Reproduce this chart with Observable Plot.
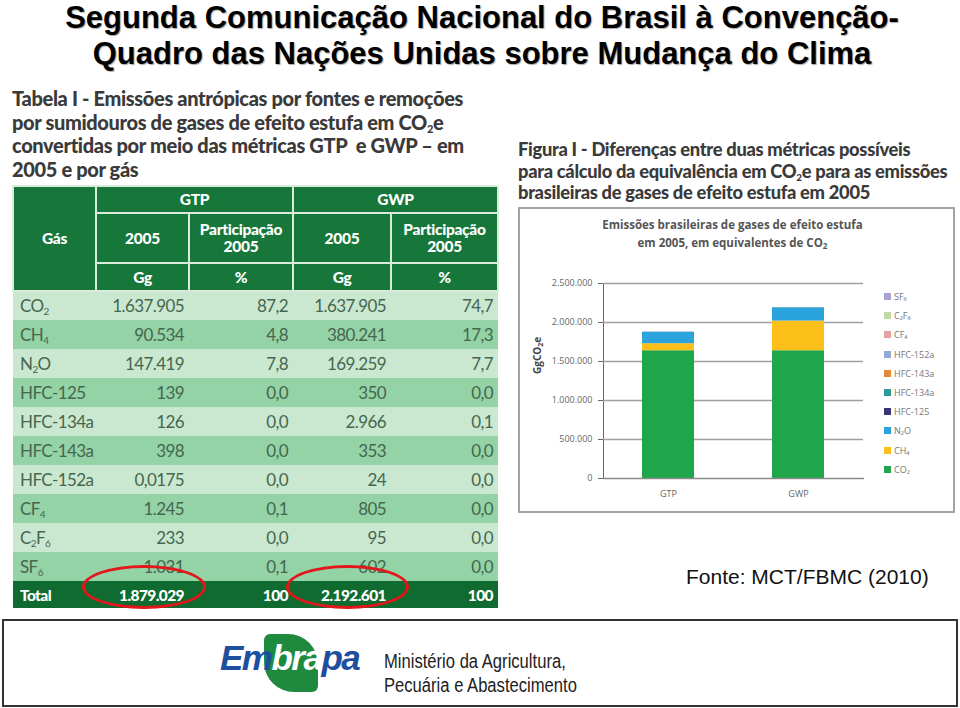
<!DOCTYPE html>
<html>
<head>
<meta charset="utf-8">
<script src="https://cdn.jsdelivr.net/npm/d3@7"></script>
<script src="https://cdn.jsdelivr.net/npm/@observablehq/plot@0.6"></script>
<style>
  html, body { margin: 0; padding: 0; background: #fff; }
  #slide { position: relative; width: 960px; height: 708px; overflow: hidden; background: #fff; font-family: "Liberation Sans", Arial, sans-serif; }
  .abs { position: absolute; }
  sub.s { vertical-align: baseline; position: relative; top: 0.3em; line-height: 0; }
  #title { left: 0; width: 964px; top: 0px; text-align: center; font: bold 31px/36px "Liberation Sans", Arial, sans-serif; color: #000; text-shadow: 1px 1px 1px #aaa; white-space: nowrap; }
  .cap { font-family: Lato, "Open Sans", sans-serif; font-weight: 900; color: #3a3a3a; white-space: nowrap; }
  #tcap { left: 12px; top: 87px; font-size: 20px; line-height: 23.5px; letter-spacing: -0.35px; }
  #fcap { left: 518px; top: 139px; font-size: 18.3px; line-height: 21.5px; letter-spacing: -0.3px; }
  table#tab { position: absolute; left: 12px; top: 185px; width: 485px; border-collapse: collapse; font-family: Lato, "Open Sans", sans-serif; table-layout: fixed; }
  #tab th { background: #17773a; color: #fff; font-weight: 900; font-size: 15.5px; line-height: 17px; border: 2px solid #d9ecd9; padding: 0; text-align: center; white-space: nowrap; letter-spacing: -0.3px; }
  #tab td { font-size: 17px; color: #46664f; padding: 0 5px; height: 29px; line-height: 20px; text-align: right; border: 0; white-space: nowrap; letter-spacing: -0.6px; box-sizing: border-box; }
  #tab td.g { text-align: left; padding-left: 7px; }
  #tab tr.l td { background: #cae8d0; }
  #tab tr.m td { background: #93d3a5; }
  #tab tr.tot td { background: #0f6b2f; color: #fff; font-weight: 900; height: 27px; font-size: 15.5px; }
  .ell { position: absolute; border: 3px solid #e3161b; border-radius: 50%; box-sizing: border-box; }
  #chartbox { left: 518px; top: 207px; width: 437px; height: 306px; border: 2px solid #a3a3a3; box-sizing: border-box; background: #fff; }
  #ctitle { left: 0; width: 425px; top: 7px; text-align: center; font: bold 11.5px/18px "Open Sans", sans-serif; color: #555; }
  #ylab { left: 10px; top: 165px; transform: rotate(-90deg); transform-origin: left top; font: bold 10px "Open Sans", sans-serif; color: #444; }
  #legend { left: 364px; top: 78px; font: 9px "Open Sans", sans-serif; color: #777; }
  #legend div { height: 19.2px; display: flex; align-items: center; }
  #legend span.sw { display: inline-block; width: 7px; height: 7px; margin-right: 3px; }
  #fonte { left: 686px; top: 565px; font: 21px "Liberation Sans", Arial, sans-serif; color: #111; white-space: nowrap; }
  #footer { left: 2px; top: 619px; width: 956px; height: 88px; border: 2px solid #333; box-sizing: border-box; background: #fff; }
  #leaf { left: 264px; top: 634px; width: 54px; height: 58px; background: #1f8a3e; border-radius: 6px 30px 6px 30px; }
  #embrapa { left: 220px; top: 638px; font: italic bold 35px/40px "Liberation Sans", Arial, sans-serif; color: #1d4f9e; letter-spacing: -1.5px; }
  #mapa { left: 384px; top: 649px; font: 20px/24px "Liberation Sans Narrow", "Liberation Sans", Arial, sans-serif; color: #222; transform: scaleX(0.83); transform-origin: left top; white-space: nowrap; }
</style>
</head>
<body>
<div id="slide">
  <div id="title" class="abs">Segunda Comunicação Nacional do Brasil à Convenção-<br>Quadro das Nações Unidas sobre Mudança do Clima</div>

  <div id="tcap" class="abs cap">Tabela I - Emissões antrópicas por fontes e remoções<br>por sumidouros de gases de efeito estufa em CO<sub class="s" style="font-size:11px">2</sub>e<br>convertidas por meio das métricas GTP&nbsp; e GWP – em<br>2005 e por gás</div>
  <table id="tab"></table>
  <div class="ell" style="left:82px;top:565px;width:124px;height:44px"></div>
  <div class="ell" style="left:286px;top:565px;width:123px;height:44px"></div>

  <div id="fcap" class="abs cap">Figura I - Diferenças entre duas métricas possíveis<br>para cálculo da equivalência em CO<sub class="s" style="font-size:10px">2</sub>e para as emissões<br>brasileiras de gases de efeito estufa em 2005</div>
  <div id="chartbox" class="abs">
    <div id="plot" class="abs" style="left:0;top:0"></div>
    <div id="ctitle" class="abs">Emissões brasileiras de gases de efeito estufa<br>em 2005, em equivalentes de CO<sub class="s" style="font-size:8px">2</sub></div>
    <div id="ylab" class="abs">GgCO<sub class="s" style="font-size:7px">2</sub>e</div>
    <div id="legend" class="abs"></div>
  </div>

  <div id="fonte" class="abs">Fonte: MCT/FBMC (2010)</div>

  <div id="footer" class="abs"></div>
  <div id="leaf" class="abs"></div>
  <div id="embrapa" class="abs"><span>Em</span><span style="color:#fff">bra</span><span>pa</span></div>
  <div id="mapa" class="abs">Ministério da Agricultura,<br>Pecuária e Abastecimento</div>
</div>
<script>
// ---- data ----
const gases = ["CO₂", "CH₄", "N₂O", "HFC-125", "HFC-134a", "HFC-143a", "HFC-152a", "CF₄", "C₂F₆", "SF₆"];
const gasTableLabels = ["CO<sub>2</sub>", "CH<sub>4</sub>", "N<sub>2</sub>O", "HFC-125", "HFC-134a", "HFC-143a", "HFC-152a", "CF<sub>4</sub>", "C<sub>2</sub>F<sub>6</sub>", "SF<sub>6</sub>"];
const metrics = ["GTP", "GWP"];
const gtpValues = [1637905, 90534, 147419, 139, 126, 398, 0.0175, 1245, 233, 1031];
const gwpValues = [1637905, 380241, 169259, 350, 2966, 353, 24, 805, 95, 602];
const gtpShare = ["87,2", "4,8", "7,8", "0,0", "0,0", "0,0", "0,0", "0,1", "0,0", "0,1"];
const gwpShare = ["74,7", "17,3", "7,7", "0,0", "0,1", "0,0", "0,0", "0,0", "0,0", "0,0"];
const totals = ["1.879.029", "100", "2.192.601", "100"];
const gasColors = ["#1fa64a", "#fdbf1a", "#2ba3dc", "#3b3574", "#2f9a9a", "#e08a3c", "#92a9d2", "#e3a3a3", "#c2d9a4", "#aaa3cf"];
const yTicks = [0, 500000, 1000000, 1500000, 2000000, 2500000];

// ---- formatting ----
const pt = d3.formatLocale({decimal: ",", thousands: ".", grouping: [3], currency: ["R$", ""]});
const fmtInt = pt.format(",d");
const fmtVal = v => v < 1 ? String(v).replace(".", ",") : fmtInt(v);

// ---- table ----
const tab = document.getElementById("tab");
let html = `<colgroup><col style="width:83px"><col style="width:93px"><col style="width:104px"><col style="width:98px"><col style="width:107px"></colgroup>`;
html += `<tr style="height:27px"><th rowspan="3">Gás</th><th colspan="2">GTP</th><th colspan="2">GWP</th></tr>`;
html += `<tr style="height:50px"><th>2005</th><th>Participação<br>2005</th><th>2005</th><th>Participação<br>2005</th></tr>`;
html += `<tr style="height:28px"><th>Gg</th><th>%</th><th>Gg</th><th>%</th></tr>`;
gases.forEach((g, i) => {
  html += `<tr class="${i % 2 === 0 ? "l" : "m"}"><td class="g">${gasTableLabels[i]}</td><td>${fmtVal(gtpValues[i])}</td><td>${gtpShare[i]}</td><td>${fmtVal(gwpValues[i])}</td><td>${gwpShare[i]}</td></tr>`;
});
html += `<tr class="tot"><td class="g">Total</td><td>${totals[0]}</td><td>${totals[1]}</td><td>${totals[2]}</td><td>${totals[3]}</td></tr>`;
tab.innerHTML = html;
tab.querySelectorAll("td sub").forEach(s => { s.className = "s"; s.style.fontSize = "10px"; });

// ---- chart ----
const rows = [];
metrics.forEach((m, j) => {
  const vals = j === 0 ? gtpValues : gwpValues;
  gases.forEach((g, i) => rows.push({metric: m, gas: g, value: vals[i]}));
});

const chart = Plot.plot({
  width: 433,
  height: 302,
  marginLeft: 83,
  marginRight: 90,
  marginTop: 74,
  marginBottom: 33,
  style: {fontFamily: "'Open Sans', sans-serif", fontSize: "9px", color: "#666", background: "transparent"},
  x: {domain: metrics, paddingInner: 0.6, paddingOuter: 0.3, label: null, tickSize: 0, tickPadding: 12, line: true},
  y: {domain: [0, 2500000], ticks: yTicks, tickFormat: fmtInt, tickSize: 5, tickPadding: 6, label: null, line: true},
  color: {domain: gases, range: gasColors},
  marks: [
    Plot.ruleY(yTicks.slice(1), {stroke: "#a0a0a0", strokeWidth: 1.5}),
    Plot.barY(rows, {x: "metric", y: "value", fill: "gas"}),
    Plot.ruleY([0], {stroke: "#8a8a8a", strokeWidth: 1.5})
  ]
});
document.getElementById("plot").appendChild(chart);

// ---- legend (top = last gas) ----
const leg = document.getElementById("legend");
gases.slice().reverse().forEach(g => {
  const c = gasColors[gases.indexOf(g)];
  const d = document.createElement("div");
  d.innerHTML = `<span class="sw" style="background:${c}"></span>${g}`;
  leg.appendChild(d);
});
</script>
</body>
</html>
